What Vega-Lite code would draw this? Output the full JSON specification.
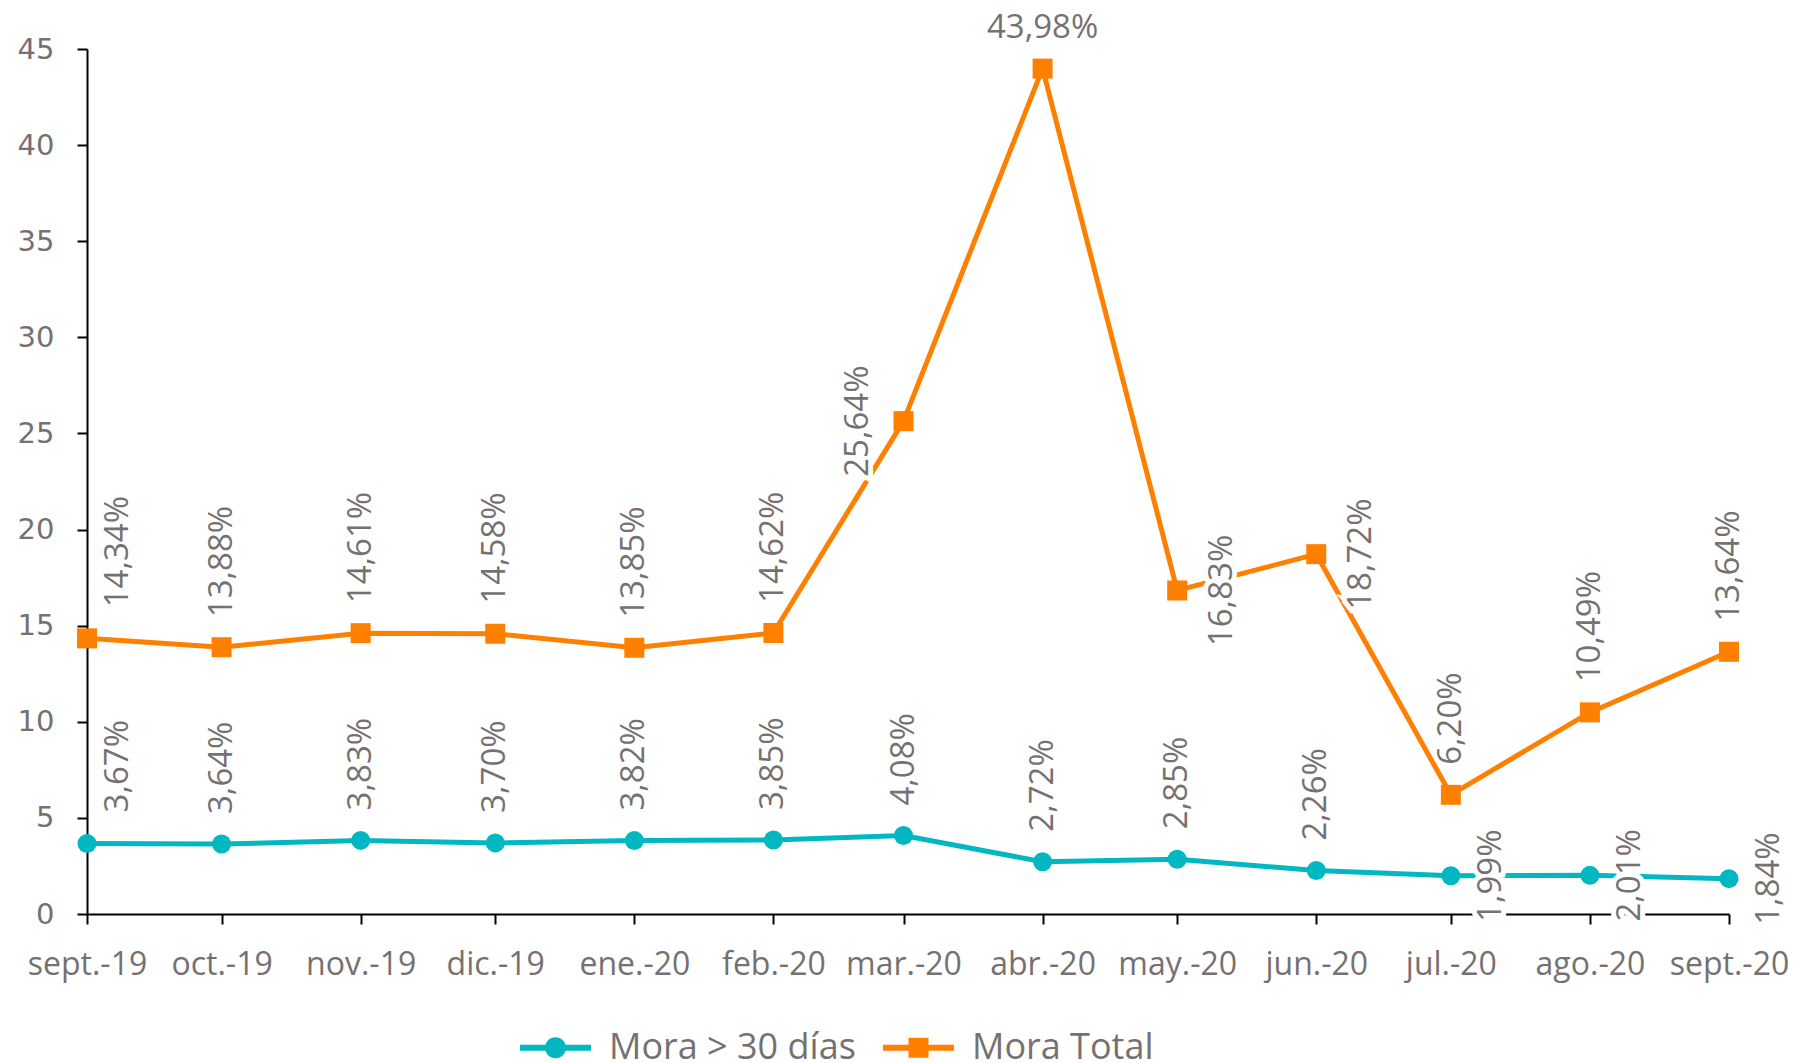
{
  "$schema": "https://vega.github.io/schema/vega-lite/v6.json",
  "width": 1642,
  "height": 865,
  "autosize": {"type": "none"},
  "padding": {"left": 87, "top": 49, "right": 69, "bottom": 149},
  "config": {"view": {"stroke": null}, "axis": {"grid": false}},
  "data": {
    "values": [
      {"date": "2019-09-01", "serie": "Mora > 30 días", "value": 3.67},
      {"date": "2019-10-01", "serie": "Mora > 30 días", "value": 3.64},
      {"date": "2019-11-01", "serie": "Mora > 30 días", "value": 3.83},
      {"date": "2019-12-01", "serie": "Mora > 30 días", "value": 3.70},
      {"date": "2020-01-01", "serie": "Mora > 30 días", "value": 3.82},
      {"date": "2020-02-01", "serie": "Mora > 30 días", "value": 3.85},
      {"date": "2020-03-01", "serie": "Mora > 30 días", "value": 4.08},
      {"date": "2020-04-01", "serie": "Mora > 30 días", "value": 2.72},
      {"date": "2020-05-01", "serie": "Mora > 30 días", "value": 2.85},
      {"date": "2020-06-01", "serie": "Mora > 30 días", "value": 2.26},
      {"date": "2020-07-01", "serie": "Mora > 30 días", "value": 1.99},
      {"date": "2020-08-01", "serie": "Mora > 30 días", "value": 2.01},
      {"date": "2020-09-01", "serie": "Mora > 30 días", "value": 1.84},
      {"date": "2019-09-01", "serie": "Mora Total", "value": 14.34},
      {"date": "2019-10-01", "serie": "Mora Total", "value": 13.88},
      {"date": "2019-11-01", "serie": "Mora Total", "value": 14.61},
      {"date": "2019-12-01", "serie": "Mora Total", "value": 14.58},
      {"date": "2020-01-01", "serie": "Mora Total", "value": 13.85},
      {"date": "2020-02-01", "serie": "Mora Total", "value": 14.62},
      {"date": "2020-03-01", "serie": "Mora Total", "value": 25.64},
      {"date": "2020-04-01", "serie": "Mora Total", "value": 43.98},
      {"date": "2020-05-01", "serie": "Mora Total", "value": 16.83},
      {"date": "2020-06-01", "serie": "Mora Total", "value": 18.72},
      {"date": "2020-07-01", "serie": "Mora Total", "value": 6.20},
      {"date": "2020-08-01", "serie": "Mora Total", "value": 10.49},
      {"date": "2020-09-01", "serie": "Mora Total", "value": 13.64}
    ]
  },
  "transform": [
    {"calculate": "replace(format(datum.value, '.2f'), '.', ',') + '%'", "as": "label"},
    {"calculate": "(utcyear(datum.date) - 2019) * 12 + utcmonth(datum.date) - 8", "as": "i"},
    {"calculate": "datum.serie === 'Mora Total'", "as": "tot"}
  ],
  "encoding": {
    "x": {
      "field": "date",
      "type": "temporal",
      "scale": {"type": "utc", "domain": [{"year": 2019, "month": 9, "date": 1, "utc": true}, {"year": 2020, "month": 9, "date": 1, "utc": true}]},
      "axis": {
        "title": null,
        "values": [
          {"year": 2019, "month": 9, "date": 1, "utc": true},
          {"year": 2019, "month": 10, "date": 1, "utc": true},
          {"year": 2019, "month": 11, "date": 1, "utc": true},
          {"year": 2019, "month": 12, "date": 1, "utc": true},
          {"year": 2020, "month": 1, "date": 1, "utc": true},
          {"year": 2020, "month": 2, "date": 1, "utc": true},
          {"year": 2020, "month": 3, "date": 1, "utc": true},
          {"year": 2020, "month": 4, "date": 1, "utc": true},
          {"year": 2020, "month": 5, "date": 1, "utc": true},
          {"year": 2020, "month": 6, "date": 1, "utc": true},
          {"year": 2020, "month": 7, "date": 1, "utc": true},
          {"year": 2020, "month": 8, "date": 1, "utc": true},
          {"year": 2020, "month": 9, "date": 1, "utc": true}
        ],
        "labelExpr": "['ene.','feb.','mar.','abr.','may.','jun.','jul.','ago.','sept.','oct.','nov.','dic.'][utcmonth(datum.value)] + '-' + utcFormat(datum.value, '%y')",
        "labelFont": "Open Sans",
        "labelFontSize": 32,
        "labelColor": "#767171",
        "labelBaseline": "alphabetic",
        "labelPadding": 50,
        "labelFlush": false,
        "labelOverlap": false,
        "domainColor": "#000000",
        "domainWidth": 2,
        "tickColor": "#000000",
        "tickWidth": 2,
        "tickSize": 10
      }
    },
    "y": {
      "field": "value",
      "type": "quantitative",
      "scale": {"domain": [0, 45], "nice": false},
      "axis": {
        "title": null,
        "values": [0, 5, 10, 15, 20, 25, 30, 35, 40, 45],
        "labelFont": "DejaVu Sans",
        "labelFontSize": 29,
        "labelColor": "#767171",
        "labelPadding": 23,
        "domainColor": "#000000",
        "domainWidth": 2,
        "tickColor": "#000000",
        "tickWidth": 2,
        "tickSize": 10
      }
    }
  },
  "layer": [
    {
      "mark": {"type": "line", "strokeWidth": 5},
      "encoding": {
        "color": {
          "field": "serie",
          "type": "nominal",
          "scale": {"domain": ["Mora > 30 días", "Mora Total"], "range": ["#00B7C2", "#FF8000"]},
          "legend": {
            "title": null,
            "orient": "none",
            "legendX": 445,
            "legendY": 975,
            "direction": "horizontal",
            "columns": 2,
            "padding": 0,
            "labelFont": "Open Sans",
            "labelFontSize": 36,
            "labelColor": "#767171",
            "labelLimit": 0,
            "labelOffset": 30,
            "columnPadding": 27,
            "symbolSize": 2180,
            "symbolStrokeWidth": 0,
            "encoding": {
              "symbols": {
                "shape": {"value": {"expr": "datum.value === 'Mora Total' ? 'M-1.52,-0.13H1.52V0.13H-1.52Z M-0.43,-0.43H0.43V0.43H-0.43Z' : 'M-1.52,-0.13H1.52V0.13H-1.52Z M0.45,0A0.45,0.45 0 1,1 -0.45,0A0.45,0.45 0 1,1 0.45,0Z'"}},
                "fill": {"value": {"expr": "datum.value === 'Mora Total' ? '#FF8000' : '#00B7C2'"}},
                "fillOpacity": {"value": 1},
                "strokeWidth": {"value": 0}
              }
            }
          }
        }
      }
    },
    {
      "transform": [{"filter": "!datum.tot"}],
      "mark": {"type": "point", "shape": "circle", "filled": true, "opacity": 1, "size": 361, "color": "#00B7C2"}
    },
    {
      "transform": [{"filter": "datum.tot"}],
      "mark": {"type": "point", "shape": "square", "filled": true, "opacity": 1, "size": 400, "color": "#FF8000"}
    },
    {
      "transform": [{"filter": "datum.i === 0"}],
      "mark": {"type": "text", "angle": 270, "align": "left", "baseline": "middle", "dx": 31, "dy": 31, "font": "Open Sans", "fontSize": 33, "fill": "#FFFFFF", "stroke": "#FFFFFF", "strokeWidth": 8},
      "encoding": {"text": {"field": "label"}}
    },
    {
      "transform": [{"filter": "datum.i === 0"}],
      "mark": {"type": "text", "angle": 270, "align": "left", "baseline": "middle", "dx": 31, "dy": 31, "font": "Open Sans", "fontSize": 33, "fill": "#767171"},
      "encoding": {"text": {"field": "label"}}
    },
    {
      "transform": [{"filter": "datum.i > 0 && !(datum.tot && datum.i >= 6 && datum.i <= 9) && !(!datum.tot && datum.i >= 10)"}],
      "mark": {"type": "text", "angle": 270, "align": "left", "baseline": "middle", "dx": 30, "font": "Open Sans", "fontSize": 33, "fill": "#FFFFFF", "stroke": "#FFFFFF", "strokeWidth": 8},
      "encoding": {"text": {"field": "label"}}
    },
    {
      "transform": [{"filter": "datum.i > 0 && !(datum.tot && datum.i >= 6 && datum.i <= 9) && !(!datum.tot && datum.i >= 10)"}],
      "mark": {"type": "text", "angle": 270, "align": "left", "baseline": "middle", "dx": 30, "font": "Open Sans", "fontSize": 33, "fill": "#767171"},
      "encoding": {"text": {"field": "label"}}
    },
    {
      "transform": [{"filter": "datum.tot && datum.i === 7"}],
      "mark": {"type": "text", "align": "center", "baseline": "alphabetic", "dy": -31, "font": "Open Sans", "fontSize": 33, "fill": "#767171"},
      "encoding": {"text": {"field": "label"}}
    },
    {
      "transform": [{"filter": "datum.tot && datum.i === 6"}],
      "mark": {"type": "text", "angle": 270, "align": "center", "baseline": "middle", "dy": -46, "font": "Open Sans", "fontSize": 33, "fill": "#FFFFFF", "stroke": "#FFFFFF", "strokeWidth": 10},
      "encoding": {"text": {"field": "label"}}
    },
    {
      "transform": [{"filter": "datum.tot && datum.i === 6"}],
      "mark": {"type": "text", "angle": 270, "align": "center", "baseline": "middle", "dy": -46, "font": "Open Sans", "fontSize": 33, "fill": "#767171"},
      "encoding": {"text": {"field": "label"}}
    },
    {
      "transform": [{"filter": "datum.tot && (datum.i === 8 || datum.i === 9)"}],
      "mark": {"type": "text", "angle": 270, "align": "center", "baseline": "middle", "dy": 45, "font": "Open Sans", "fontSize": 33, "fill": "#FFFFFF", "stroke": "#FFFFFF", "strokeWidth": 10},
      "encoding": {"text": {"field": "label"}}
    },
    {
      "transform": [{"filter": "datum.tot && (datum.i === 8 || datum.i === 9)"}],
      "mark": {"type": "text", "angle": 270, "align": "center", "baseline": "middle", "dy": 45, "font": "Open Sans", "fontSize": 33, "fill": "#767171"},
      "encoding": {"text": {"field": "label"}}
    },
    {
      "transform": [{"filter": "!datum.tot && datum.i >= 10"}],
      "mark": {"type": "text", "angle": 270, "align": "center", "baseline": "middle", "dy": 40, "font": "Open Sans", "fontSize": 33, "fill": "#FFFFFF", "stroke": "#FFFFFF", "strokeWidth": 10},
      "encoding": {"text": {"field": "label"}}
    },
    {
      "transform": [{"filter": "!datum.tot && datum.i >= 10"}],
      "mark": {"type": "text", "angle": 270, "align": "center", "baseline": "middle", "dy": 40, "font": "Open Sans", "fontSize": 33, "fill": "#767171"},
      "encoding": {"text": {"field": "label"}}
    }
  ]
}
